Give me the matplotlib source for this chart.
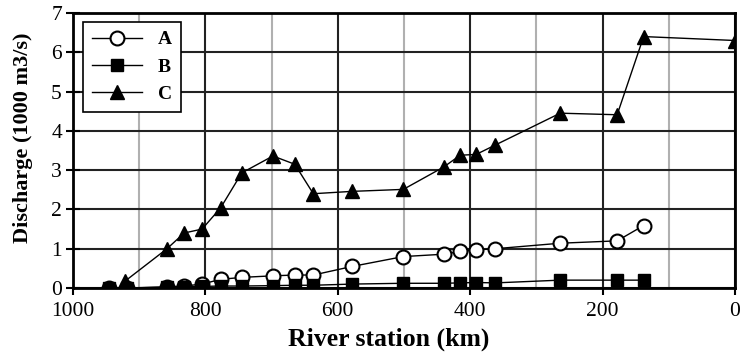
import matplotlib
matplotlib.use("Agg")
import matplotlib.pyplot as plt
from matplotlib.ticker import MultipleLocator

plt.rcParams['font.family'] = ['Liberation Serif', 'DejaVu Serif']

# River stations (km) and discharge (1000 m3/s) for three scenarios
station_a = [945, 919, 858, 832, 805, 777, 745, 698, 665, 637, 578, 501,
             440, 415, 391, 362, 264, 178, 138]
discharge_a = [0.0, 0.0, 0.03, 0.05, 0.1, 0.22, 0.27, 0.31, 0.33, 0.33, 0.55, 0.8,
               0.86, 0.93, 0.97, 1.0, 1.14, 1.2, 1.59]

station_b = [945, 919, 858, 832, 805, 777, 745, 698, 665, 637, 578, 501,
             440, 415, 391, 362, 264, 178, 138]
discharge_b = [0.0, 0.0, 0.02, 0.03, 0.04, 0.05, 0.05, 0.06, 0.07, 0.07, 0.1, 0.12,
               0.12, 0.13, 0.14, 0.13, 0.2, 0.2, 0.2]

station_c = [921, 858, 832, 805, 777, 745, 698, 665, 637, 578, 501,
             440, 415, 391, 362, 264, 178, 138, 0]
discharge_c = [0.18, 1.0, 1.4, 1.5, 2.04, 2.93, 3.36, 3.15, 2.4, 2.46, 2.51,
               3.08, 3.38, 3.4, 3.64, 4.45, 4.41, 6.4, 6.3]

fig = plt.figure(figsize=(7.42, 3.63), dpi=100)
ax = fig.add_axes([73 / 742, 1 - 288 / 363, 662 / 742, 275 / 363])

ax.plot(station_a, discharge_a, '-o', color='black', lw=1.0, ms=10,
        mfc='white', mec='black', mew=1.5, label='A', zorder=3)
ax.plot(station_b, discharge_b, '-s', color='black', lw=1.0, ms=9,
        mfc='black', mec='black', label='B', zorder=4)
ax.plot(station_c, discharge_c, '-^', color='black', lw=1.0, ms=10,
        mfc='black', mec='black', label='C', zorder=5)

ax.set_xlim(1000, 0)
ax.set_ylim(0, 7)
ax.xaxis.set_major_locator(MultipleLocator(200))
ax.xaxis.set_minor_locator(MultipleLocator(100))
ax.yaxis.set_major_locator(MultipleLocator(1))

ax.grid(True, which='major', axis='both', color='#222222', lw=1.5, zorder=1)
ax.grid(True, which='minor', axis='x', color='#b0b0b0', lw=1.5, zorder=1)
ax.set_axisbelow(True)

for sp in ax.spines.values():
    sp.set_linewidth(2)
ax.tick_params(axis='x', which='major', direction='out', length=5, width=1.5,
               labelsize=15.5, colors='black', pad=5)
ax.tick_params(axis='y', which='major', direction='inout', length=10, width=1.5,
               labelsize=15.5, colors='black', pad=3)
ax.tick_params(axis='x', which='minor', length=0)

ax.set_xlabel('River station (km)', fontsize=18.5, fontweight='bold')
ax.set_ylabel('Discharge (1000 m3/s)', fontsize=16, fontweight='bold')
ax.xaxis.set_label_coords(0.477, -0.145)
ax.yaxis.set_label_coords(-0.06, 0.545)

leg = ax.legend(loc='upper left', bbox_to_anchor=(0.015, 0.967), borderaxespad=0,
                fontsize=14, frameon=True, fancybox=False, edgecolor='black',
                framealpha=1, handlelength=2.6, borderpad=0.45, labelspacing=0.5)
leg.get_frame().set_linewidth(1.2)
for t in leg.get_texts():
    t.set_fontweight('bold')

fig.savefig('out.png', dpi=100)
